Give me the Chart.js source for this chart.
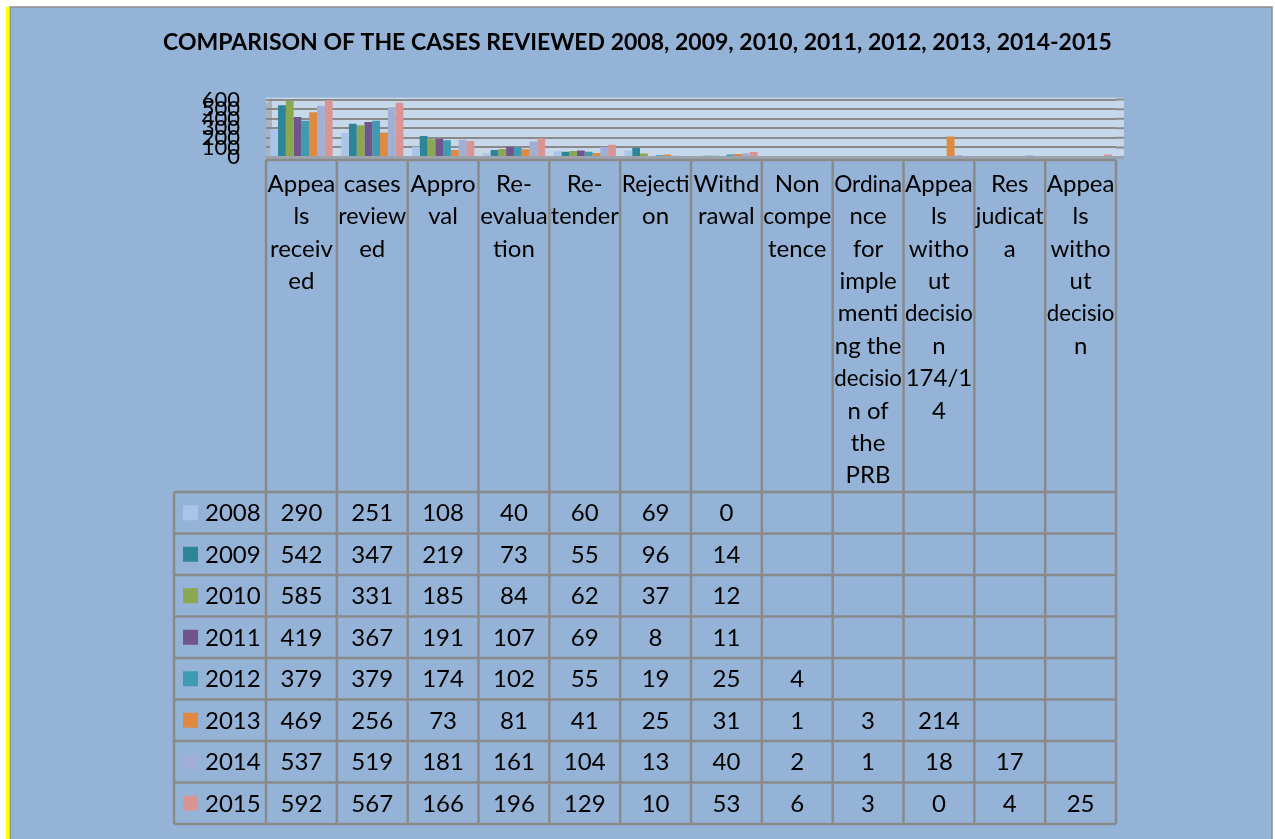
<!DOCTYPE html>
<html lang="en">
<head>
  <meta charset="UTF-8">
  <title>Comparison of the cases reviewed 2008-2015</title>
  <script src="https://cdn.jsdelivr.net/npm/chart.js"></script>
  <style>
    body { margin: 0; background: #fff; }
    canvas { display: block; }
  </style>
</head>
<body>
<canvas id="casesChart" width="1275" height="839"></canvas>
<script>
  // categories, already wrapped the way the header cells show them
  const categories = [
    ['Appea', 'ls', 'receiv', 'ed'],
    ['cases', 'review', 'ed'],
    ['Appro', 'val'],
    ['Re-', 'evalua', 'tion'],
    ['Re-', 'tender'],
    ['Rejecti', 'on'],
    ['Withd', 'rawal'],
    ['Non', 'compe', 'tence'],
    ['Ordina', 'nce', 'for', 'imple', 'menti', 'ng the', 'decisio', 'n of', 'the', 'PRB'],
    ['Appea', 'ls', 'witho', 'ut', 'decisio', 'n', '174/1', '4'],
    ['Res', 'judicat', 'a'],
    ['Appea', 'ls', 'witho', 'ut', 'decisio', 'n']
  ];
  const years = ['2008', '2009', '2010', '2011', '2012', '2013', '2014', '2015'];

  const cases2008 = [290, 251, 108, 40, 60, 69, 0, null, null, null, null, null];
  const cases2009 = [542, 347, 219, 73, 55, 96, 14, null, null, null, null, null];
  const cases2010 = [585, 331, 185, 84, 62, 37, 12, null, null, null, null, null];
  const cases2011 = [419, 367, 191, 107, 69, 8, 11, null, null, null, null, null];
  const cases2012 = [379, 379, 174, 102, 55, 19, 25, 4, null, null, null, null];
  const cases2013 = [469, 256, 73, 81, 41, 25, 31, 1, 3, 214, null, null];
  const cases2014 = [537, 519, 181, 161, 104, 13, 40, 2, 1, 18, 17, null];
  const cases2015 = [592, 567, 166, 196, 129, 10, 53, 6, 3, 0, 4, 25];

  const yTicks = [0, 100, 200, 300, 400, 500, 600];

  const series = [cases2008, cases2009, cases2010, cases2011, cases2012, cases2013, cases2014, cases2015];
  const colors = ['#a9c5ea', '#2e8597', '#8ca752', '#70558c', '#3f9bb0', '#e08a3f', '#a2afd4', '#d99594'];

  const FONT = 'Lato, "Open Sans", sans-serif';
  const GRID = '#8a8a8a';

  // page frame, plot wall
  const framePlugin = {
    id: 'frame',
    beforeDraw(chart) {
      const ctx = chart.ctx, w = chart.width, h = chart.height;
      const a = chart.chartArea;
      ctx.save();
      ctx.fillStyle = '#fff';
      ctx.fillRect(0, 0, w, h);
      ctx.fillStyle = '#95b3d7';
      ctx.fillRect(10, 7, w - 13, h - 7);
      ctx.strokeStyle = '#8c8c8c';
      ctx.lineWidth = 1.5;
      ctx.strokeRect(10, 7, w - 13, h);
      ctx.fillStyle = '#ffff00';
      ctx.fillRect(6, 7, 3.5, h - 7);

      // back wall + side wall
      ctx.fillStyle = '#c8d8eb';
      ctx.fillRect(a.left, a.top - 2, a.right - a.left + 8, a.bottom - a.top + 2);
      ctx.fillStyle = '#a9b3c0';
      ctx.beginPath();
      ctx.moveTo(a.left, a.bottom + 2);
      ctx.lineTo(a.left, a.top + 4);
      ctx.lineTo(a.left + 6, a.top - 2);
      ctx.lineTo(a.left + 6, a.bottom - 2);
      ctx.closePath();
      ctx.fill();
      ctx.restore();
    },
    beforeDatasetsDraw(chart) {
      // grid lines run on past the last category, onto the wall's depth
      const ctx = chart.ctx, ys = chart.scales.y, a = chart.chartArea;
      ctx.save();
      ctx.strokeStyle = GRID;
      ctx.lineWidth = 2;
      ctx.beginPath();
      yTicks.forEach(v => {
        const y = ys.getPixelForValue(v);
        ctx.moveTo(a.right, y);
        ctx.lineTo(a.right + 8, y);
      });
      ctx.stroke();
      ctx.restore();
    }
  };

  // data table below the plot
  const tablePlugin = {
    id: 'dataTable',
    afterDraw(chart) {
      const ctx = chart.ctx, xs = chart.scales.x, a = chart.chartArea;
      const n = categories.length;
      const colW = (a.right - a.left) / n;
      const top = a.bottom + 3;
      const headBottom = top + 332;
      const rowH = 41.5;
      const bottom = headBottom + rowH * years.length;
      const legLeft = a.left - 92;

      ctx.save();
      // floor
      ctx.fillStyle = '#9aa3ae';
      ctx.fillRect(a.left, a.bottom - 1, a.right - a.left + 8, 3);

      ctx.strokeStyle = GRID;
      ctx.lineWidth = 2.5;
      ctx.beginPath();
      for (let i = 0; i <= n; i++) {
        const x = a.left + i * colW;
        ctx.moveTo(x, top);
        ctx.lineTo(x, bottom);
      }
      ctx.moveTo(legLeft, headBottom);
      ctx.lineTo(legLeft, bottom);
      ctx.moveTo(a.left, top);
      ctx.lineTo(a.right, top);
      for (let r = 0; r <= years.length; r++) {
        const y = headBottom + r * rowH;
        ctx.moveTo(legLeft, y);
        ctx.lineTo(a.right, y);
      }
      ctx.stroke();

      ctx.fillStyle = '#000';
      ctx.font = '24px ' + FONT;
      ctx.textAlign = 'center';
      ctx.textBaseline = 'middle';
      categories.forEach((lines, i) => {
        const cx = xs.getPixelForValue(i);
        lines.forEach((t, j) => {
          ctx.fillText(t, cx, top + 24 + j * 32.4, colW - 3);
        });
      });

      years.forEach((yr, r) => {
        const cy = headBottom + r * rowH + rowH / 2;
        ctx.fillStyle = colors[r];
        ctx.fillRect(legLeft + 9, cy - 7.5, 15, 15);
        ctx.fillStyle = '#000';
        ctx.textAlign = 'left';
        ctx.fillText(yr, legLeft + 31, cy + 1);
        ctx.textAlign = 'center';
        series[r].forEach((v, i) => {
          if (v === null) return;
          ctx.fillText(String(v), xs.getPixelForValue(i), cy + 1);
        });
      });
      ctx.restore();
    }
  };

  new Chart(document.getElementById('casesChart'), {
    type: 'bar',
    data: {
      labels: categories,
      datasets: years.map((yr, r) => ({
        label: yr,
        data: series[r],
        backgroundColor: colors[r],
        borderWidth: 0,
        categoryPercentage: 0.88,
        barPercentage: 1.0
      }))
    },
    options: {
      responsive: false,
      animation: false,
      layout: { padding: { left: 0, right: 0, top: 0, bottom: 682 } },
      scales: {
        x: { display: false },
        y: {
          min: 0,
          max: 600,
          afterBuildTicks(scale) { scale.ticks = yTicks.map(v => ({ value: v })); },
          afterFit(scale) { scale.width = 266; },
          ticks: { autoSkip: false, padding: 26, color: '#000', font: { family: FONT, size: 22 } },
          grid: { color: GRID, lineWidth: 2, drawTicks: false },
          border: { display: false }
        },
        // empty right axis, only keeps room to the right of the plot
        yRight: {
          position: 'right',
          min: 0,
          max: 600,
          afterFit(scale) { scale.width = 159; },
          ticks: { display: false },
          grid: { display: false },
          border: { display: false }
        }
      },
      plugins: {
        legend: { display: false },
        tooltip: { enabled: false },
        title: {
          display: true,
          text: 'COMPARISON OF THE CASES REVIEWED 2008, 2009, 2010, 2011, 2012, 2013, 2014-2015',
          color: '#000',
          font: { family: FONT, size: 23, weight: 'bold' },
          padding: { top: 29, bottom: 43 }
        }
      }
    },
    plugins: [framePlugin, tablePlugin]
  });
</script>
</body>
</html>
